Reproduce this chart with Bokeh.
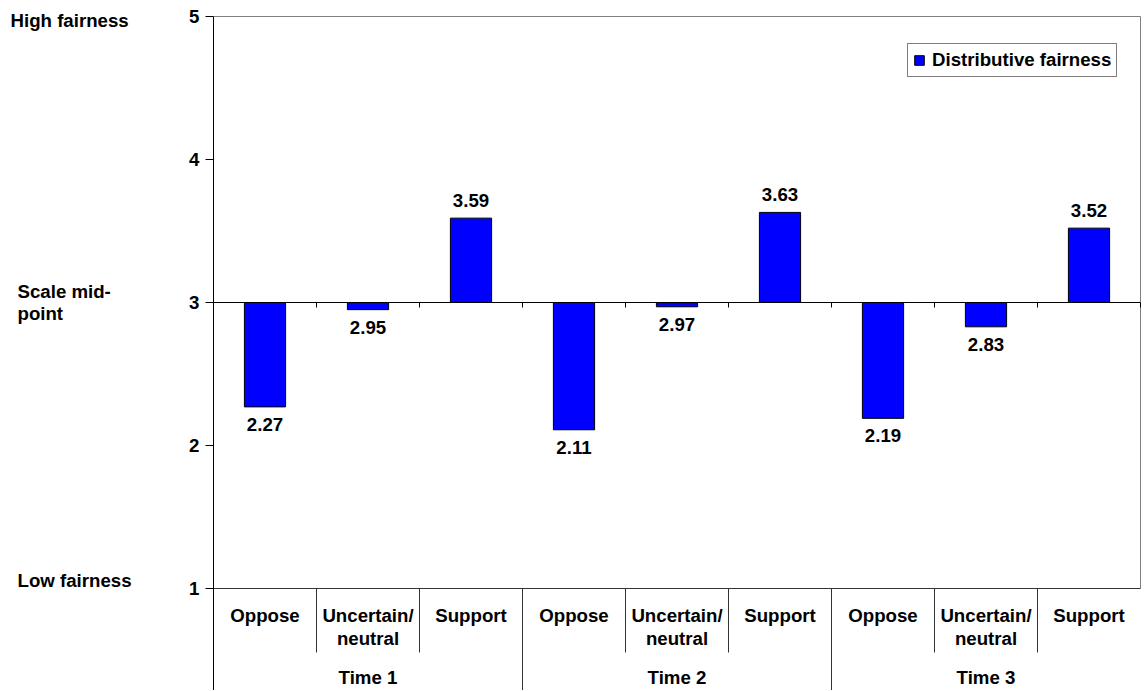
from bokeh.plotting import figure
from bokeh.layouts import row
from bokeh.models import (Range1d, FixedTicker, Legend, LegendItem,
                          ColumnDataSource)
from bokeh.core.properties import value
from bokeh.embed import file_html
from bokeh.resources import INLINE

# ---------------- data ----------------
groups = ["Time 1", "Time 2", "Time 3"]
categories = ["Oppose", "Uncertain/\nneutral", "Support"]
values = [2.27, 2.95, 3.59, 2.11, 2.97, 3.63, 2.19, 2.83, 3.52]
series_name = "Distributive fairness"
midpoint = 3
y_ticks = [1, 2, 3, 4, 5]
scale_label_values = [5, 3, 1]
scale_labels = ["High fairness", "Scale mid-\npoint", "Low fairness"]

# ---------------- styling ----------------
FONT = "Liberation Sans"
FS = "18.67px"
BLUE = "#0000FF"
PX_X = 103.0   # px per category
PX_Y = 143.0   # px per unit
H = 690
TOP = 4                      # frame top (page px)
TOP_VALUE_PX = 16            # page y of the top tick
LW = 140                     # width of the left text panel
W = 1144 - LW                # width of main figure
LEFT = 213 - LW
FRAME_W = 928
RIGHT = W - LEFT - FRAME_W
scale_label_x = [10, 17, 17]          # px from page left
scale_label_dy = [4, 0, -8]           # px shift (down positive)

n = len(groups) * len(categories)
ymax = max(y_ticks)
ymin = min(y_ticks)
x_span = FRAME_W / PX_X
y_top = ymax + (TOP_VALUE_PX - TOP) / PX_Y
y_bottom = y_top - (H - TOP) / PX_Y
yrange = Range1d(y_bottom, y_top)

p = figure(width=W, height=H, x_range=Range1d(0, x_span),
           y_range=yrange, output_backend="svg",
           toolbar_location=None, x_axis_location=None,
           min_border_left=LEFT, min_border_right=RIGHT,
           min_border_top=TOP, min_border_bottom=0)
p.outline_line_color = None
p.grid.visible = False
p.background_fill_color = "white"

yax = p.yaxis[0]
yax.ticker = FixedTicker(ticks=y_ticks, minor_ticks=[])
yax.bounds = (y_bottom, ymax)
yax.major_tick_out = 8
yax.major_tick_in = 0
yax.minor_tick_out = 0
yax.minor_tick_in = 0
yax.axis_line_color = "black"
yax.major_tick_line_color = "black"
yax.major_label_standoff = 6
yax.major_label_text_font = FONT
yax.major_label_text_font_size = FS
yax.major_label_text_font_style = "bold"
yax.major_label_text_color = "black"

# frame borders (top, right) and bottom baseline at value 1
p.segment(x0=[0], y0=[ymax], x1=[n], y1=[ymax],
          line_color="#808080", line_width=1)
p.segment(x0=[n], y0=[ymin], x1=[n], y1=[ymax],
          line_color="#808080", line_width=1)
p.segment(x0=[0], y0=[ymin], x1=[n], y1=[ymin],
          line_color="#333333", line_width=1)

# category separators below the baseline
inner = [i for i in range(1, n) if i % len(categories) != 0]
outer = [i for i in range(1, n) if i % len(categories) == 0]
sep_len = 64.0 / PX_Y
p.segment(x0=inner, y0=[ymin] * len(inner), x1=inner,
          y1=[ymin - sep_len] * len(inner), line_color="#333333", line_width=1)
p.segment(x0=outer, y0=[ymin] * len(outer), x1=outer,
          y1=[y_bottom] * len(outer), line_color="#333333", line_width=1)

# midpoint line ticks
tick_len = 5.0 / PX_Y
ticks_x = list(range(1, n + 1))
p.segment(x0=ticks_x, y0=[midpoint] * len(ticks_x), x1=ticks_x,
          y1=[midpoint - tick_len] * len(ticks_x), line_color="black", line_width=1)

# bars
xs = [i + 0.5 for i in range(n)]
src = ColumnDataSource(dict(x=xs, top=values))
bars = p.vbar(x="x", width=0.4, bottom=midpoint, top="top", source=src,
              fill_color=BLUE, line_color="black", line_width=1)
p.segment(x0=[0], y0=[midpoint], x1=[n], y1=[midpoint],
          line_color="black", line_width=1.2)

# value labels
pos = [i for i, v in enumerate(values) if v >= midpoint]
neg = [i for i, v in enumerate(values) if v < midpoint]
p.text(x=[xs[i] for i in pos], y=[values[i] for i in pos],
       text=["%.2f" % values[i] for i in pos], text_align="center",
       text_baseline="bottom", y_offset=-11, text_font=value(FONT),
       text_font_size=FS, text_font_style="bold", text_color="black")
p.text(x=[xs[i] for i in neg], y=[values[i] for i in neg],
       text=["%.2f" % values[i] for i in neg], text_align="center",
       text_baseline="top", y_offset=11, text_font=value(FONT),
       text_font_size=FS, text_font_style="bold", text_color="black")

# category labels (lines)
cat_y = ymin - 27.0 / PX_Y
line_step = 23.0 / PX_Y
lx, ly, lt = [], [], []
for gi in range(len(groups)):
    for ci, cat in enumerate(categories):
        for li, line in enumerate(cat.split("\n")):
            lx.append(gi * len(categories) + ci + 0.5)
            ly.append(cat_y - li * line_step)
            lt.append(line)
p.text(x=lx, y=ly, text=lt, text_align="center", text_baseline="middle",
       text_font=value(FONT), text_font_size=FS, text_font_style="bold",
       text_color="black")

# group labels
grp_y = ymin - 89.0 / PX_Y
p.text(x=[gi * len(categories) + len(categories) / 2 for gi in range(len(groups))],
       y=[grp_y] * len(groups), text=groups, text_align="center",
       text_baseline="middle", text_font=value(FONT), text_font_size=FS,
       text_font_style="bold", text_color="black")

# legend
legend = Legend(items=[LegendItem(label=series_name, renderers=[bars])],
                location=(694, 613), orientation="vertical",
                border_line_color="black", border_line_width=1,
                background_fill_color="white", background_fill_alpha=1,
                padding=5, spacing=0, margin=0, glyph_width=12,
                glyph_height=12, label_standoff=7, label_height=16,
                label_text_font=FONT, label_text_font_size=FS,
                label_text_font_style="bold", label_text_color="black")
p.add_layout(legend)

# ---------------- left panel with scale descriptions ----------------
q = figure(width=LW, height=H, x_range=Range1d(0, LW), y_range=yrange,
           output_backend="svg", toolbar_location=None,
           x_axis_location=None, y_axis_location=None,
           min_border_left=0, min_border_right=0,
           min_border_top=TOP, min_border_bottom=0)
q.outline_line_color = None
q.grid.visible = False
sl_step = 21.6 / PX_Y
sx, sy, st = [], [], []
for yv, txt, x0, dy in zip(scale_label_values, scale_labels,
                           scale_label_x, scale_label_dy):
    lines = txt.split("\n")
    for li, line in enumerate(lines):
        sx.append(x0)
        sy.append(yv - dy / PX_Y + (len(lines) - 1) * sl_step / 2 - li * sl_step)
        st.append(line)
q.text(x=sx, y=sy, text=st, text_align="left", text_baseline="middle",
       text_font=value(FONT), text_font_size=FS, text_font_style="bold",
       text_color="black")

layout = row(q, p, spacing=0)
open("out.html", "w").write(file_html(layout, INLINE))
